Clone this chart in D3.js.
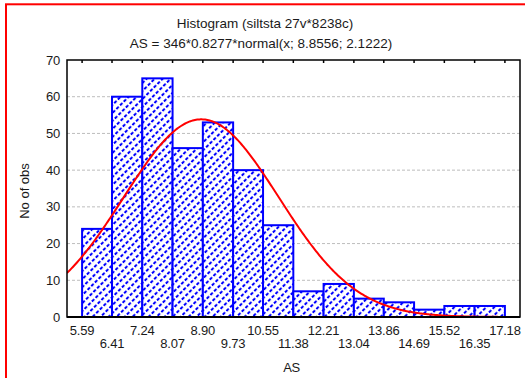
<!DOCTYPE html>
<html>
<head>
<meta charset="utf-8">
<script src="https://cdn.jsdelivr.net/npm/d3@7"></script>
<style>
  html, body { margin: 0; padding: 0; background: #fff; }
  svg { display: block; }
  text { font-family: "Liberation Sans", Arial, sans-serif; fill: #1a1a1a; }
</style>
</head>
<body>
<svg id="chart" width="525" height="378"></svg>
<script>
// Bin edges of the histogram (also the x tick labels)
const binEdges = [5.59, 6.41, 7.24, 8.07, 8.90, 9.73, 10.55, 11.38, 12.21, 13.04, 13.86, 14.69, 15.52, 16.35, 17.18];
const edgeLabels = ["5.59", "6.41", "7.24", "8.07", "8.90", "9.73", "10.55", "11.38", "12.21", "13.04", "13.86", "14.69", "15.52", "16.35", "17.18"];
// Number of observations in each bin
const counts = [24, 60, 65, 46, 53, 40, 25, 7, 9, 5, 4, 2, 3, 3];
// Y ticks
const yTicks = [0, 10, 20, 30, 40, 50, 60, 70];
// Fitted normal curve: AS = 346*0.8277*normal(x; 8.8556; 2.1222)
const fitN = 346, fitStep = 0.8277, fitMean = 8.8556, fitSd = 2.1222;

const titleLines = ["Histogram (siltsta 27v*8238c)", "AS = 346*0.8277*normal(x; 8.8556; 2.1222)"];
const xTitle = "AS", yTitle = "No of obs";

const svg = d3.select("#chart");
const plot = { left: 67, right: 520, top: 60, bottom: 317 };

const half = fitStep / 2;
const x = d3.scaleLinear()
  .domain([binEdges[0] - half, binEdges[binEdges.length - 1] + half])
  .range([plot.left, plot.right]);
const y = d3.scaleLinear().domain([0, 70]).range([plot.bottom, plot.top]);

// Outer red border
svg.append("rect")
  .attr("x", 6).attr("y", 4.3)
  .attr("width", 540).attr("height", 400)
  .attr("fill", "none").attr("stroke", "#ff0000").attr("stroke-width", 2);

// Hatch pattern for the bars: dashed "/" stripes, dashes staggered between stripes
const defs = svg.append("defs");
const gapPerp = 8 / Math.SQRT2;   // perpendicular spacing of stripes (8px horizontally)
const period = 5.2;               // dash + gap length along a stripe
const dash = period * 0.62;
const pat = defs.append("pattern")
  .attr("id", "hatch").attr("patternUnits", "userSpaceOnUse")
  .attr("width", period).attr("height", gapPerp * 2)
  .attr("patternTransform", "rotate(-45)");
pat.append("rect").attr("x", -1).attr("y", -1)
  .attr("width", period + 2).attr("height", gapPerp * 2 + 2).attr("fill", "#fff");
pat.selectAll("rect.dash")
  .data([[0, 0], [period / 2, gapPerp], [period / 2 - period, gapPerp]])
  .join("rect")
  .attr("class", "dash")
  .attr("x", d => d[0]).attr("y", d => d[1])
  .attr("width", dash).attr("height", 2)
  .attr("fill", "#0000ff");
const clip = defs.append("clipPath").attr("id", "plotClip");
clip.append("rect").attr("x", plot.left).attr("y", plot.top)
  .attr("width", plot.right - plot.left).attr("height", plot.bottom - plot.top);

// Dashed horizontal grid
svg.append("g")
  .selectAll("line")
  .data(yTicks.filter(t => t > 0 && t < 70))
  .join("line")
  .attr("x1", plot.left).attr("x2", plot.right)
  .attr("y1", d => y(d)).attr("y2", d => y(d))
  .attr("stroke", "#bdbdbd").attr("stroke-width", 1)
  .attr("stroke-dasharray", "3 2");

// Bars
const bins = counts.map((c, i) => ({ x0: binEdges[i], x1: binEdges[i + 1], n: c }));
svg.append("g")
  .selectAll("rect")
  .data(bins)
  .join("rect")
  .attr("x", d => x(d.x0))
  .attr("y", d => y(d.n))
  .attr("width", d => x(d.x1) - x(d.x0))
  .attr("height", d => y(0) - y(d.n))
  .attr("fill", "url(#hatch)")
  .attr("stroke", "#0000ff").attr("stroke-width", 2);

// Normal curve
const pdf = v => Math.exp(-0.5 * ((v - fitMean) / fitSd) ** 2) / (fitSd * Math.sqrt(2 * Math.PI));
const curvePts = d3.range(0, 401).map(i => {
  const v = x.domain()[0] + (x.domain()[1] - x.domain()[0]) * i / 400;
  return [v, fitN * fitStep * pdf(v)];
});
svg.append("path")
  .datum(curvePts)
  .attr("clip-path", "url(#plotClip)")
  .attr("fill", "none").attr("stroke", "#ff0000").attr("stroke-width", 2)
  .attr("d", d3.line().x(d => x(d[0])).y(d => y(d[1])));

// Frame
svg.append("rect")
  .attr("x", plot.left).attr("y", plot.top)
  .attr("width", plot.right - plot.left).attr("height", plot.bottom - plot.top)
  .attr("fill", "none").attr("stroke", "#000").attr("stroke-width", 1.5);
svg.append("line")
  .attr("x1", plot.left).attr("x2", plot.right)
  .attr("y1", plot.bottom).attr("y2", plot.bottom)
  .attr("stroke", "#000").attr("stroke-width", 2.2);

// Top inward ticks at bin edges
svg.append("g")
  .selectAll("line")
  .data(binEdges)
  .join("line")
  .attr("x1", d => x(d)).attr("x2", d => x(d))
  .attr("y1", plot.top).attr("y2", plot.top + 3)
  .attr("stroke", "#000").attr("stroke-width", 1.5);

// Y axis labels
svg.append("g")
  .selectAll("text")
  .data(yTicks)
  .join("text")
  .attr("x", 60).attr("y", d => y(d))
  .attr("dy", "0.35em")
  .attr("text-anchor", "end")
  .attr("font-size", 13)
  .attr("letter-spacing", -0.2)
  .text(d => d);

// X axis labels in two staggered rows
svg.append("g")
  .selectAll("text")
  .data(binEdges)
  .join("text")
  .attr("x", d => x(d))
  .attr("y", (d, i) => i % 2 === 0 ? 335 : 348)
  .attr("text-anchor", "middle")
  .attr("font-size", 13)
  .attr("letter-spacing", -0.2)
  .text((d, i) => edgeLabels[i]);

// Axis titles
svg.append("text")
  .attr("x", (plot.left + plot.right) / 2 - 2).attr("y", 371.5)
  .attr("text-anchor", "middle").attr("font-size", 13)
  .attr("letter-spacing", -0.3)
  .text(xTitle);
svg.append("text")
  .attr("transform", "translate(29,191) rotate(-90)")
  .attr("text-anchor", "middle").attr("font-size", 13)
  .text(yTitle);

// Titles
svg.append("text")
  .attr("x", 265).attr("y", 28)
  .attr("text-anchor", "middle").attr("font-size", 13.5)
  .text(titleLines[0]);
svg.append("text")
  .attr("x", 261).attr("y", 48)
  .attr("text-anchor", "middle").attr("font-size", 13.5)
  .text(titleLines[1]);
</script>
</body>
</html>
